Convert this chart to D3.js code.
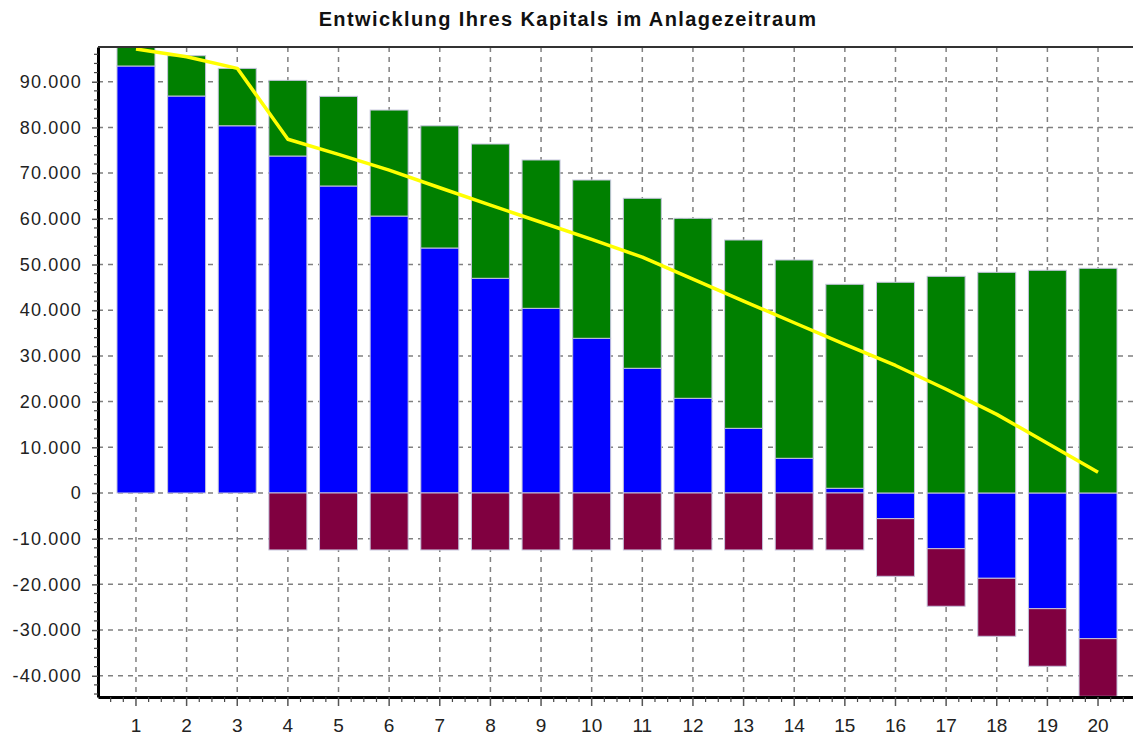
<!DOCTYPE html>
<html>
<head>
<meta charset="utf-8">
<script src="https://cdn.jsdelivr.net/npm/d3@7"></script>
<style>
  body { margin: 0; background: #fff; }
  svg { display: block; font-family: "Liberation Sans", Arial, sans-serif; }
</style>
</head>
<body>
<script>
// Jahre im Anlagezeitraum
var years = [1, 2, 3, 4, 5, 6, 7, 8, 9, 10, 11, 12, 13, 14, 15, 16, 17, 18, 19, 20];

// blaue Säulen (Kapital)
var kapital = [93440, 86870, 80360, 73740, 67180, 60600, 53610, 46980, 40410, 33850,
               27290, 20720, 14150, 7590, 1030, -5620, -12190, -18670, -25320, -31880];
// grüne Säulen (Erträge)
var ertraege = [4960, 8820, 12560, 16560, 19620, 23200, 26740, 29390, 32460, 34640,
                37200, 39390, 41210, 43400, 44640, 46110, 47410, 48290, 48730, 49170];
// rote Säulen (Entnahmen)
var entnahmen = [0, 0, 0, -12470, -12470, -12470, -12470, -12470, -12470, -12470,
                 -12470, -12470, -12470, -12470, -12470, -12610, -12600, -12690, -12600, -12620];
// gelbe Linie
var verlauf = [97150, 95470, 92930, 77400, 74100, 70650, 66800, 63000, 59250, 55500,
               51600, 46800, 42000, 37250, 32500, 27900, 22700, 17200, 10900, 4530];

var yTicks = [-40000, -30000, -20000, -10000, 0, 10000, 20000, 30000, 40000, 50000, 60000, 70000, 80000, 90000];

var width = 1133, height = 735;
var margin = { top: 47, right: -3, bottom: 38, left: 98 };
var plotRight = width - margin.right;   // Rahmen liegt knapp außerhalb
var plotBottom = height - margin.bottom;

var colors = { kapital: "#0000ff", ertraege: "#008000", entnahmen: "#800040" };

var de = d3.formatLocale({ decimal: ",", thousands: ".", grouping: [3], currency: ["", " €"], minus: "-" });
var fmt = de.format(",.0f");

var table = years.map((yr, i) => ({
    year: yr,
    kapital: kapital[i],
    ertraege: ertraege[i],
    entnahmen: entnahmen[i]
}));

var series = d3.stack()
    .keys(["kapital", "ertraege", "entnahmen"])
    .offset(d3.stackOffsetDiverging)(table);

var x = d3.scaleBand()
    .domain(years)
    .range([margin.left, plotRight])
    .paddingInner(0.25)
    .paddingOuter(0.375);

var y = d3.scaleLinear()
    .domain([-44650, 97600])
    .range([plotBottom, margin.top]);

var svg = d3.select("body").append("svg")
    .attr("width", width)
    .attr("height", height);

svg.append("defs").append("clipPath").attr("id", "plot")
    .append("rect")
    .attr("x", margin.left).attr("y", margin.top)
    .attr("width", plotRight - margin.left)
    .attr("height", plotBottom - margin.top);

// title
svg.append("text")
    .attr("x", 568).attr("y", 26)
    .attr("text-anchor", "middle")
    .attr("font-weight", "bold")
    .attr("font-size", 20)
    .attr("letter-spacing", 1.4)
    .attr("fill", "#111")
    .text("Entwicklung Ihres Kapitals im Anlagezeitraum");

// grid
var grid = svg.append("g")
    .attr("stroke", "#808080")
    .attr("stroke-width", 1.5)
    .attr("stroke-dasharray", "5,5");

grid.selectAll(".h").data(yTicks).join("line")
    .attr("class", "h")
    .attr("x1", margin.left).attr("x2", width)
    .attr("y1", d => y(d)).attr("y2", d => y(d));

grid.selectAll(".v").data(years).join("line")
    .attr("class", "v")
    .attr("x1", d => x(d) + x.bandwidth() / 2).attr("x2", d => x(d) + x.bandwidth() / 2)
    .attr("y1", margin.top).attr("y2", plotBottom);

// bars
var plot = svg.append("g").attr("clip-path", "url(#plot)");

plot.selectAll("g.series").data(series).join("g")
    .attr("class", "series")
    .attr("fill", d => colors[d.key])
    .selectAll("rect")
    .data(d => d.filter(s => s[1] !== s[0]))
    .join("rect")
    .attr("x", d => x(d.data.year))
    .attr("width", x.bandwidth())
    .attr("y", d => y(Math.max(d[0], d[1])))
    .attr("height", d => Math.abs(y(d[0]) - y(d[1])))
    .attr("stroke", "#c4c4dc")
    .attr("stroke-width", 1);

// line
var line = d3.line()
    .x((d, i) => x(years[i]) + x.bandwidth() / 2)
    .y(d => y(d));

plot.append("path")
    .datum(verlauf)
    .attr("fill", "none")
    .attr("stroke", "#ffff00")
    .attr("stroke-width", 3.5)
    .attr("stroke-linejoin", "round")
    .attr("d", line);

// left axis
var yAxis = svg.append("g")
    .attr("transform", `translate(${margin.left},0)`)
    .call(d3.axisLeft(y).tickValues(yTicks).tickFormat(fmt).tickSize(6).tickPadding(10).tickSizeOuter(0));

yAxis.select(".domain").attr("stroke", "#000").attr("stroke-width", 3);
yAxis.selectAll(".tick line").attr("stroke", "#555").attr("stroke-width", 1.5);
yAxis.selectAll(".tick text")
    .attr("font-size", 18)
    .attr("letter-spacing", 1.2)
    .attr("fill", "#222")
    .attr("font-family", "Liberation Sans, Arial, sans-serif");

var yMinor = d3.range(-44000, 97000, 2000).filter(v => v % 10000 !== 0);
yAxis.selectAll(".minor").data(yMinor).join("line")
    .attr("class", "minor")
    .attr("x1", -4).attr("x2", 0)
    .attr("y1", d => y(d)).attr("y2", d => y(d))
    .attr("stroke", "#444").attr("stroke-width", 1.2);

// bottom axis
var xAxis = svg.append("g")
    .attr("transform", `translate(0,${plotBottom})`)
    .call(d3.axisBottom(x).tickSize(9).tickPadding(13).tickSizeOuter(0));

xAxis.select(".domain").attr("stroke", "#000").attr("stroke-width", 3);
xAxis.selectAll(".tick line").attr("stroke", "#555").attr("stroke-width", 1.5);
xAxis.selectAll(".tick text")
    .attr("font-size", 19)
    .attr("fill", "#222")
    .attr("font-family", "Liberation Sans, Arial, sans-serif");

var step = x.step();
var firstCenter = x(years[0]) + x.bandwidth() / 2;
var xMinor = d3.range(-3, years.length * 4 + 2)
    .filter(k => k % 4 !== 0)
    .map(k => firstCenter + k * step / 4)
    .filter(v => v > margin.left + 2 && v < width);
xAxis.selectAll(".minor").data(xMinor).join("line")
    .attr("class", "minor")
    .attr("x1", d => d).attr("x2", d => d)
    .attr("y1", 0).attr("y2", 5)
    .attr("stroke", "#444").attr("stroke-width", 1.2);

// top frame
svg.append("line")
    .attr("x1", margin.left).attr("x2", width)
    .attr("y1", margin.top).attr("y2", margin.top)
    .attr("stroke", "#333").attr("stroke-width", 2);
</script>
</body>
</html>
